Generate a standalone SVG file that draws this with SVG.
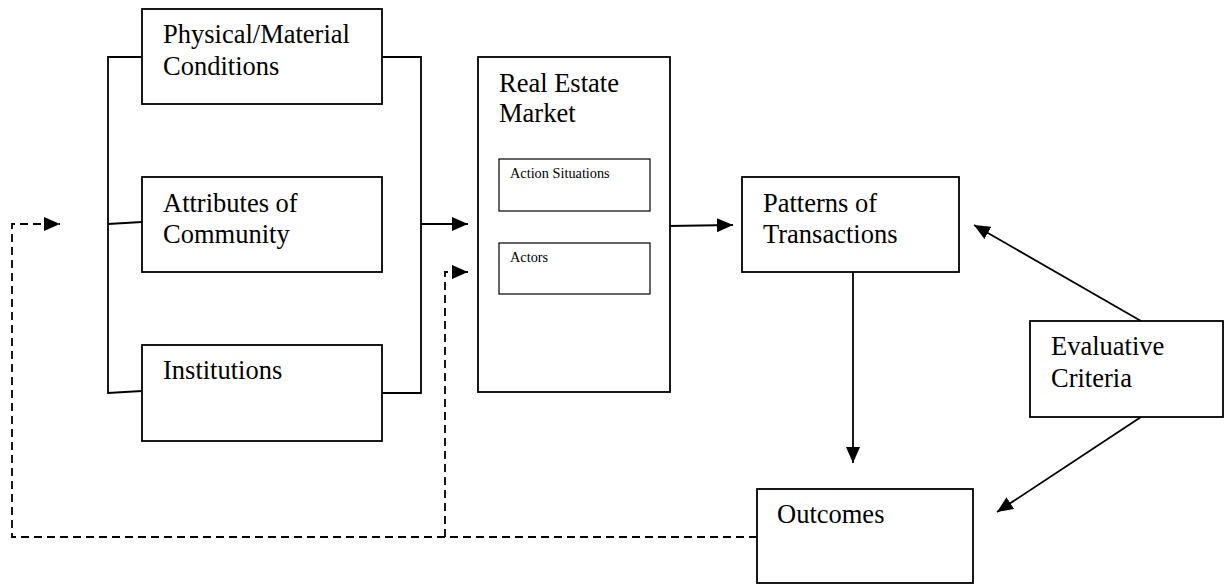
<svg xmlns="http://www.w3.org/2000/svg" width="1232" height="584" viewBox="0 0 1232 584">
<style>
.box{fill:#fff;stroke:#000;stroke-width:1.8}
.sbox{fill:#fff;stroke:#000;stroke-width:1.2}
.t{font-family:"Liberation Serif","Times New Roman",serif;font-size:26.5px;fill:#000}
.s{font-family:"Liberation Serif","Times New Roman",serif;font-size:14.3px;fill:#000}
.ln{fill:none;stroke:#000;stroke-width:1.8}
.dl{fill:none;stroke:#000;stroke-width:1.8;stroke-dasharray:8 5}
</style>
<defs>
<marker id="ah" viewBox="0 0 16 14" refX="16" refY="7" markerWidth="16" markerHeight="14" markerUnits="userSpaceOnUse" orient="auto">
<path d="M0,0 L16,7 L0,14 Z" fill="#000"/>
</marker>
</defs>
<rect width="1232" height="584" fill="#fff"/>
<g id="connectors">
<path class="ln" d="M142,57 H108 V393 L142,391"/>
<path class="ln" d="M108,224 L142,222"/>
<path class="ln" d="M382,57 H421 V393 H382"/>
<path class="ln" d="M421,224 H468" marker-end="url(#ah)"/>
<path class="ln" d="M668,226 L733,225" marker-end="url(#ah)"/>
<path class="ln" d="M853,272 V463" marker-end="url(#ah)"/>
<path class="ln" d="M1141,321 L974,225" marker-end="url(#ah)"/>
<path class="ln" d="M1141,417 L997,512" marker-end="url(#ah)"/>
<path class="dl" d="M757,537 H12 V224 H60" marker-end="url(#ah)"/>
<path class="dl" d="M445,537 V272 H468" marker-end="url(#ah)"/>
</g>
<g id="physical">
<rect class="box" x="142" y="9" width="240" height="95"/>
<text class="t" x="163" y="43">Physical/Material</text>
<text class="t" x="163" y="75">Conditions</text>
</g>
<g id="attributes">
<rect class="box" x="142" y="177" width="240" height="95"/>
<text class="t" x="163" y="212">Attributes of</text>
<text class="t" x="163" y="243">Community</text>
</g>
<g id="institutions">
<rect class="box" x="142" y="345" width="240" height="96"/>
<text class="t" x="163" y="379">Institutions</text>
</g>
<g id="market">
<rect class="box" x="478" y="57" width="192" height="335"/>
<text class="t" x="499" y="92">Real Estate</text>
<text class="t" x="499" y="122">Market</text>
</g>
<g id="action-situations">
<rect class="sbox" x="499" y="159" width="151" height="52"/>
<text class="s" x="510" y="178">Action Situations</text>
</g>
<g id="actors">
<rect class="sbox" x="499" y="243" width="151" height="51"/>
<text class="s" x="510" y="262">Actors</text>
</g>
<g id="patterns">
<rect class="box" x="742" y="177" width="217" height="95"/>
<text class="t" x="763" y="212">Patterns of</text>
<text class="t" x="763" y="243">Transactions</text>
</g>
<g id="evaluative">
<rect class="box" x="1030" y="321" width="193" height="96"/>
<text class="t" x="1051" y="355">Evaluative</text>
<text class="t" x="1051" y="387">Criteria</text>
</g>
<g id="outcomes">
<rect class="box" x="757" y="489" width="216" height="94"/>
<text class="t" x="777" y="523">Outcomes</text>
</g>
</svg>
